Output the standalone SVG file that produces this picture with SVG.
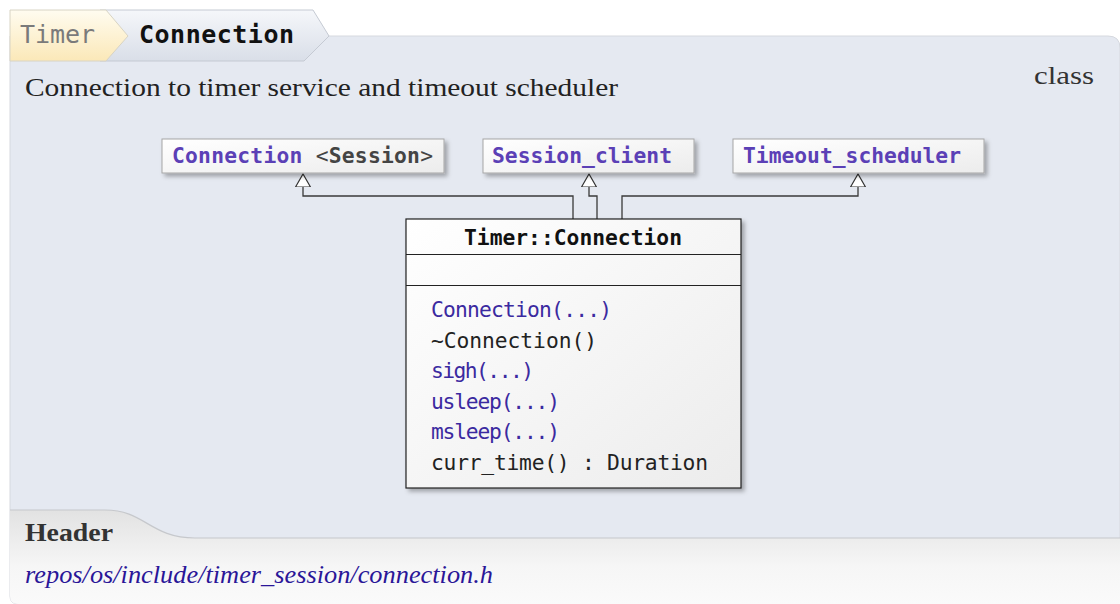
<svg xmlns="http://www.w3.org/2000/svg" width="1120" height="604" viewBox="0 0 1120 604">
  <defs>
    <linearGradient id="gTimer" x1="0" y1="0" x2="0" y2="1">
      <stop offset="0" stop-color="#fffcf0"/>
      <stop offset="1" stop-color="#fbe8b8"/>
    </linearGradient>
    <linearGradient id="gConn" x1="0" y1="0" x2="0" y2="1">
      <stop offset="0" stop-color="#f5f7fa"/>
      <stop offset="1" stop-color="#d9dee8"/>
    </linearGradient>
    <linearGradient id="gFoot" x1="0" y1="0" x2="0" y2="1">
      <stop offset="0" stop-color="#e2e2e2"/>
      <stop offset="0.6" stop-color="#f6f6f6"/>
      <stop offset="1" stop-color="#fafafa"/>
    </linearGradient>
    <linearGradient id="gBox" x1="0" y1="0" x2="1" y2="1">
      <stop offset="0" stop-color="#ffffff"/>
      <stop offset="1" stop-color="#ececec"/>
    </linearGradient>
    <filter id="shadow" x="-10%" y="-10%" width="130%" height="140%">
      <feDropShadow dx="3" dy="3" stdDeviation="2" flood-color="#000" flood-opacity="0.3"/>
    </filter>
    <marker id="inh" viewBox="0 0 16 16" markerWidth="16" markerHeight="16" refX="0" refY="8" orient="auto-start-reverse" markerUnits="userSpaceOnUse">
      <path d="M0,0.5 L13,8 L0,15.5 Z" fill="#ffffff" stroke="#333333" stroke-width="1.2"/>
    </marker>
  </defs>
  <style>
    .serif { font-family: "Liberation Serif", "DejaVu Serif", serif; }
    .mono { font-family: "DejaVu Sans Mono", "Liberation Mono", monospace; font-size: 21.3px; }
    .base { fill: url(#gBox); stroke: #a6a6a6; stroke-width: 1; filter: url(#shadow); }
    .baseName { font-weight: bold; fill: #5b40b6; }
    .link { fill: #3b2aa0; }
    .plain { fill: #222222; }
    .conn { fill: none; stroke: #3a3a3a; stroke-width: 1.3; }
  </style>

  <!-- panel background -->
  <path d="M10,36 H1108 Q1120,36 1120,48 V604 H18 Q10,604 10,596 Z" fill="#e5e9f1" stroke="#d6d9df" stroke-width="1"/>
  <!-- footer -->
  <path d="M10,510 H105 C145,510 150,538 195,538 H1120 V604 H18 Q10,604 10,596 Z" fill="url(#gFoot)"/>
  <path d="M10,510 H105 C145,510 150,538 195,538 H1120" fill="none" stroke="#c6c8cc" stroke-width="1.2"/>

  <!-- breadcrumb tabs -->
  <g id="tab-connection">
    <path d="M100,10 H313 L329,36 L304,61 H100 Z" fill="url(#gConn)" stroke="#c5cad3" stroke-width="1"/>
    <text x="139" y="43" class="mono" font-size="25" font-weight="bold" fill="#111111" textLength="155" lengthAdjust="spacing" style="font-size:25px">Connection</text>
  </g>
  <g id="tab-timer">
    <path d="M10,10 H106 L128,36 L106,61 H10 Z" fill="url(#gTimer)" stroke="#d8d4c4" stroke-width="1"/>
    <text x="20" y="43" class="mono" fill="#7a7a7a" textLength="75" lengthAdjust="spacing" style="font-size:25px">Timer</text>
  </g>

  <text x="25" y="96" class="serif" font-size="25" fill="#222222" textLength="593" lengthAdjust="spacingAndGlyphs">Connection to timer service and timeout scheduler</text>
  <text x="1034" y="84" class="serif" font-size="25" fill="#333333" textLength="60" lengthAdjust="spacingAndGlyphs">class</text>

  <!-- connectors -->
  <g id="connectors">
    <path class="conn" d="M303,187 V196 H573 V219" marker-start="url(#inh)"/>
    <path class="conn" d="M589,187 V196 H597 V219" marker-start="url(#inh)"/>
    <path class="conn" d="M858,187 V196 H622 V219" marker-start="url(#inh)"/>
  </g>

  <!-- base classes -->
  <g id="base-connection">
    <rect class="base" x="162" y="139" width="282" height="34"/>
    <text x="172" y="163" class="mono" textLength="261" lengthAdjust="spacing"><tspan class="baseName">Connection</tspan><tspan fill="#444444"> &lt;</tspan><tspan fill="#444444" font-weight="bold">Session</tspan><tspan fill="#444444">&gt;</tspan></text>
  </g>
  <g id="base-session-client">
    <rect class="base" x="483" y="139" width="211" height="34"/>
    <text x="492" y="163" class="mono baseName" textLength="180" lengthAdjust="spacing">Session_client</text>
  </g>
  <g id="base-timeout-scheduler">
    <rect class="base" x="733" y="139" width="251" height="34"/>
    <text x="743" y="163" class="mono baseName" textLength="218" lengthAdjust="spacing">Timeout_scheduler</text>
  </g>

  <!-- main class -->
  <g id="class-timer-connection">
    <rect x="406" y="219" width="335" height="269" fill="url(#gBox)" stroke="#222222" stroke-width="1.2" filter="url(#shadow)"/>
    <line x1="406" y1="254.5" x2="741" y2="254.5" stroke="#222222" stroke-width="1.2"/>
    <line x1="406" y1="285.5" x2="741" y2="285.5" stroke="#222222" stroke-width="1.2"/>
    <text x="573" y="245" class="mono" font-weight="bold" fill="#111111" text-anchor="middle">Timer::Connection</text>
    <text x="431" y="317" class="mono link" textLength="181" lengthAdjust="spacing">Connection(...)</text>
    <text x="431" y="347.5" class="mono plain" textLength="166" lengthAdjust="spacing">~Connection()</text>
    <text x="431" y="378" class="mono link" textLength="103" lengthAdjust="spacing">sigh(...)</text>
    <text x="431" y="408.5" class="mono link" textLength="129" lengthAdjust="spacing">usleep(...)</text>
    <text x="431" y="439" class="mono link" textLength="129" lengthAdjust="spacing">msleep(...)</text>
    <text x="431" y="469.5" class="mono plain" textLength="277" lengthAdjust="spacing">curr_time() : Duration</text>
  </g>

  <!-- footer texts -->
  <text x="25" y="541" class="serif" font-size="25" font-weight="bold" fill="#333333" textLength="88" lengthAdjust="spacingAndGlyphs">Header</text>
  <text x="25" y="583" class="serif" font-size="25" font-style="italic" fill="#2a1698" textLength="468" lengthAdjust="spacingAndGlyphs">repos/os/include/timer_session/connection.h</text>
</svg>
